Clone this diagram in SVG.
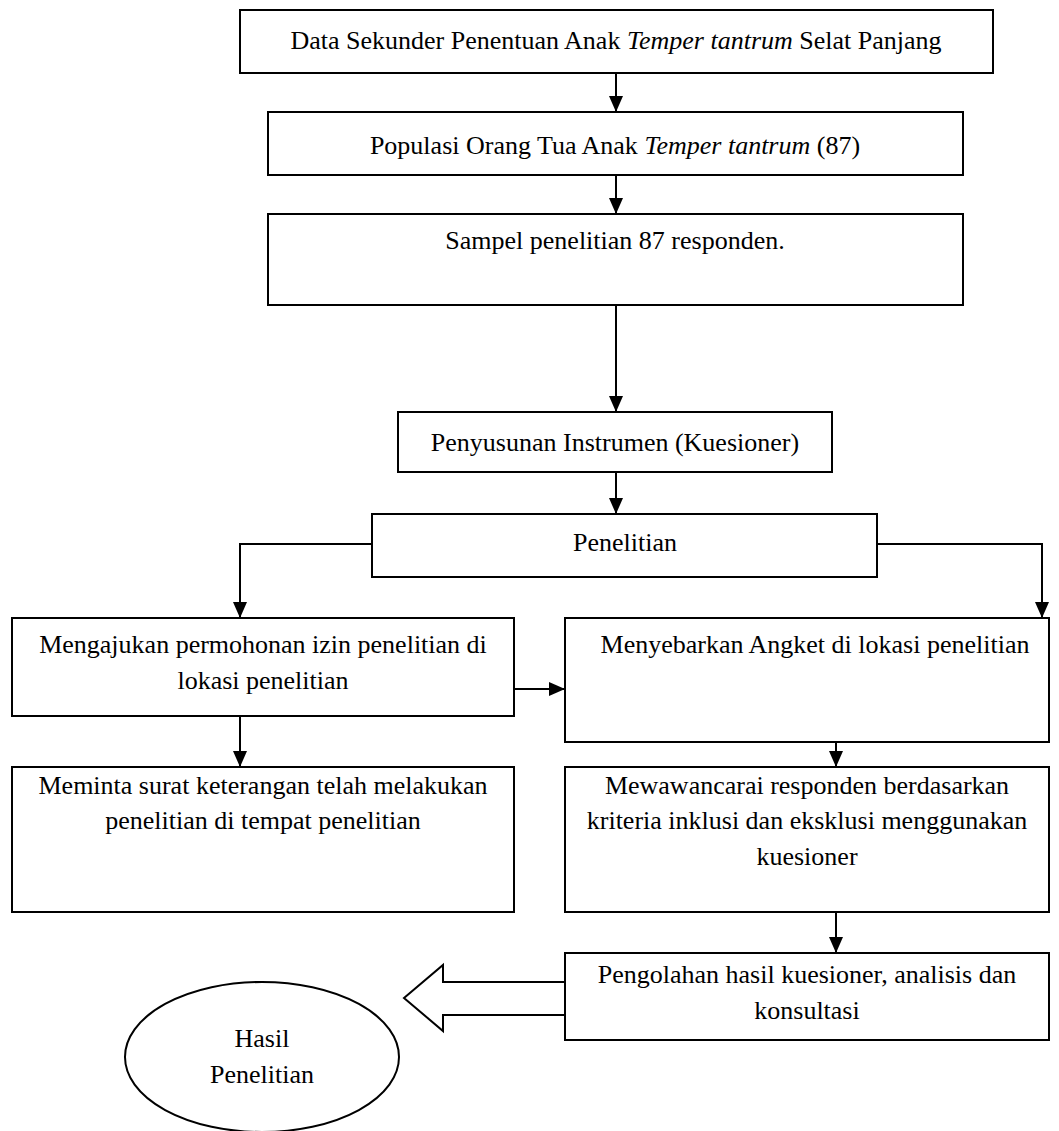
<svg xmlns="http://www.w3.org/2000/svg" width="1059" height="1131" viewBox="0 0 1059 1131">
<style>
.box{fill:#fff;stroke:#000;stroke-width:2}
.ln{fill:none;stroke:#000;stroke-width:2}
text{font-family:"Liberation Serif","Times New Roman",serif;font-size:26px;fill:#000;text-anchor:middle}
.it{font-style:italic}
</style>
<defs>
<marker id="ah" markerWidth="16" markerHeight="14" refX="16" refY="7" orient="auto" markerUnits="userSpaceOnUse" viewBox="0 0 16 14">
<path d="M0,0 L16,7 L0,14 Z" fill="#000"/>
</marker>
</defs>
<rect width="1059" height="1131" fill="#fff"/>
<g id="connectors">
<line class="ln" x1="616" y1="73" x2="616" y2="112" marker-end="url(#ah)"/>
<line class="ln" x1="616" y1="175" x2="616" y2="214" marker-end="url(#ah)"/>
<line class="ln" x1="616" y1="305" x2="616" y2="412" marker-end="url(#ah)"/>
<line class="ln" x1="616" y1="472" x2="616" y2="514" marker-end="url(#ah)"/>
<polyline class="ln" points="372,544 240,544 240,618" marker-end="url(#ah)"/>
<polyline class="ln" points="877,544 1042,544 1042,618" marker-end="url(#ah)"/>
<line class="ln" x1="514" y1="689" x2="565" y2="689" marker-end="url(#ah)"/>
<line class="ln" x1="240" y1="716" x2="240" y2="767" marker-end="url(#ah)"/>
<line class="ln" x1="836" y1="742" x2="836" y2="767" marker-end="url(#ah)"/>
<line class="ln" x1="836" y1="912" x2="836" y2="953" marker-end="url(#ah)"/>
<polygon class="box" points="404,998 443,965 443,982 565,982 565,1015 443,1015 443,1031"/>
</g>
<g id="n1"><rect class="box" x="240" y="10" width="753" height="63"/>
<text x="616" y="49">Data Sekunder Penentuan Anak <tspan class="it">Temper tantrum</tspan> Selat Panjang</text></g>
<g id="n2"><rect class="box" x="268" y="112" width="695" height="63"/>
<text x="615" y="154">Populasi Orang Tua Anak <tspan class="it">Temper tantrum</tspan> (87)</text></g>
<g id="n3"><rect class="box" x="268" y="214" width="695" height="91"/>
<text x="615" y="249">Sampel penelitian 87 responden.</text></g>
<g id="n4"><rect class="box" x="398" y="412" width="434" height="60"/>
<text x="615" y="451">Penyusunan Instrumen (Kuesioner)</text></g>
<g id="n5"><rect class="box" x="372" y="514" width="505" height="63"/>
<text x="625" y="551">Penelitian</text></g>
<g id="n6"><rect class="box" x="12" y="618" width="502" height="98"/>
<text x="263" y="653">Mengajukan permohonan izin penelitian di</text>
<text x="263" y="689">lokasi penelitian</text></g>
<g id="n7"><rect class="box" x="565" y="618" width="484" height="124"/>
<text x="815" y="653">Menyebarkan Angket di lokasi penelitian</text></g>
<g id="n8"><rect class="box" x="12" y="767" width="502" height="145"/>
<text x="263" y="794">Meminta surat keterangan telah melakukan</text>
<text x="263" y="829">penelitian di tempat penelitian</text></g>
<g id="n9"><rect class="box" x="565" y="767" width="484" height="145"/>
<text x="807" y="794">Mewawancarai responden berdasarkan</text>
<text x="807" y="829">kriteria inklusi dan eksklusi menggunakan</text>
<text x="807" y="865">kuesioner</text></g>
<g id="n10"><rect class="box" x="565" y="953" width="484" height="87"/>
<text x="807" y="983">Pengolahan hasil kuesioner, analisis dan</text>
<text x="807" y="1019">konsultasi</text></g>
<g id="n11"><ellipse class="box" cx="262" cy="1057" rx="137" ry="75"/>
<text x="262" y="1047">Hasil</text>
<text x="262" y="1083">Penelitian</text></g>
</svg>
